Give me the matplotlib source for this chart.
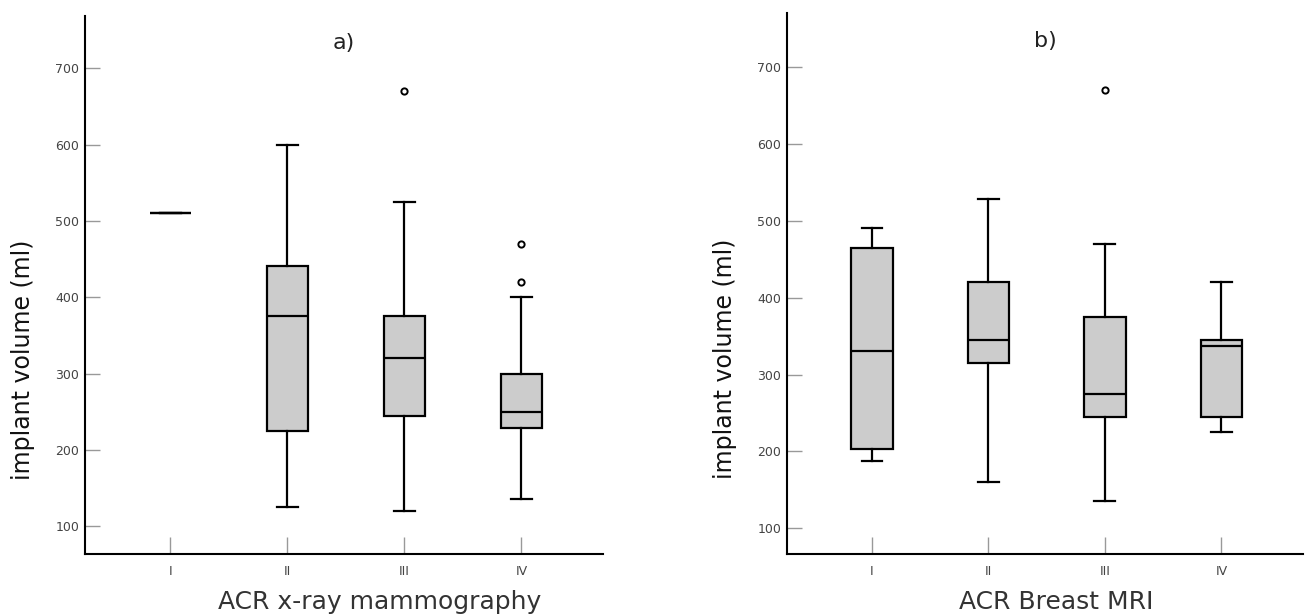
import numpy as np
import matplotlib
matplotlib.use("Agg")
import matplotlib.pyplot as plt

categories = ['I', 'II', 'III', 'IV']

# panel a) ACR x-ray mammography
a_whislo = [510, 125, 120, 135]
a_q1 = [510, 225, 245, 229]
a_med = [510, 375, 320, 249]
a_q3 = [510, 441, 375, 300]
a_whishi = [510, 600, 525, 400]
a_fliers = [[], [], [670], [420, 470]]

# panel b) ACR Breast MRI
b_whislo = [187, 160, 135, 225]
b_q1 = [203, 315, 245, 245]
b_med = [330, 345, 275, 337]
b_q3 = [465, 420, 375, 345]
b_whishi = [490, 528, 470, 420]
b_fliers = [[], [], [670], []]


def make_stats(lo, q1, med, q3, hi, fl):
    stats = []
    for i in range(len(lo)):
        stats.append(dict(whislo=lo[i], q1=q1[i], med=med[i], q3=q3[i],
                          whishi=hi[i], fliers=fl[i], label=categories[i]))
    return stats


fig = plt.figure(figsize=(13.06, 6.15), dpi=100)
ax1 = fig.add_axes([0.065, 0.0997, 0.397, 0.875])
ax2 = fig.add_axes([0.6026, 0.0997, 0.395, 0.879])

panels = [
    (ax1, make_stats(a_whislo, a_q1, a_med, a_q3, a_whishi, a_fliers),
     'a)', 'ACR x-ray mammography', (64, 769), 0.568),
    (ax2, make_stats(b_whislo, b_q1, b_med, b_q3, b_whishi, b_fliers),
     'b)', 'ACR Breast MRI', (67, 770), 0.521),
]

for ax, stats, title, xlab, ylim, xlab_x in panels:
    ax.bxp(stats, positions=[1, 2, 3, 4], widths=0.355, patch_artist=True,
           showfliers=True,
           boxprops=dict(facecolor='#cccccc', edgecolor='black', linewidth=1.6),
           medianprops=dict(color='black', linewidth=1.6),
           whiskerprops=dict(color='black', linewidth=1.6),
           capprops=dict(color='black', linewidth=1.6),
           capwidths=0.18,
           flierprops=dict(marker='o', markersize=4.5, markerfacecolor='white',
                           markeredgecolor='black', markeredgewidth=1.4))
    ax.set_xlim(0.27, 4.70)
    ax.set_ylim(*ylim)
    ax.set_yticks([100, 200, 300, 400, 500, 600, 700])
    ax.spines['top'].set_visible(False)
    ax.spines['right'].set_visible(False)
    ax.spines['left'].set_linewidth(1.5)
    ax.spines['bottom'].set_linewidth(1.5)
    ax.tick_params(axis='y', direction='in', length=11, width=1,
                   color='#999999', labelcolor='#444444', labelsize=9, pad=4)
    ax.tick_params(axis='x', direction='in', length=12, width=1,
                   color='#999999', labelcolor='#444444', labelsize=9, pad=8)
    ax.set_ylabel('implant volume (ml)', fontsize=17, color='#111111',
                  va='center', ha='center')
    ax.yaxis.set_label_coords(-0.12, 0.36)
    ax.set_xlabel(xlab, fontsize=18, color='#333333', va='center')
    ax.xaxis.set_label_coords(xlab_x, -0.09)
    ax.text(0.5, 0.949, title, transform=ax.transAxes, fontsize=16,
            color='#222222', ha='center', va='center')

plt.savefig('out.png', dpi=100)
